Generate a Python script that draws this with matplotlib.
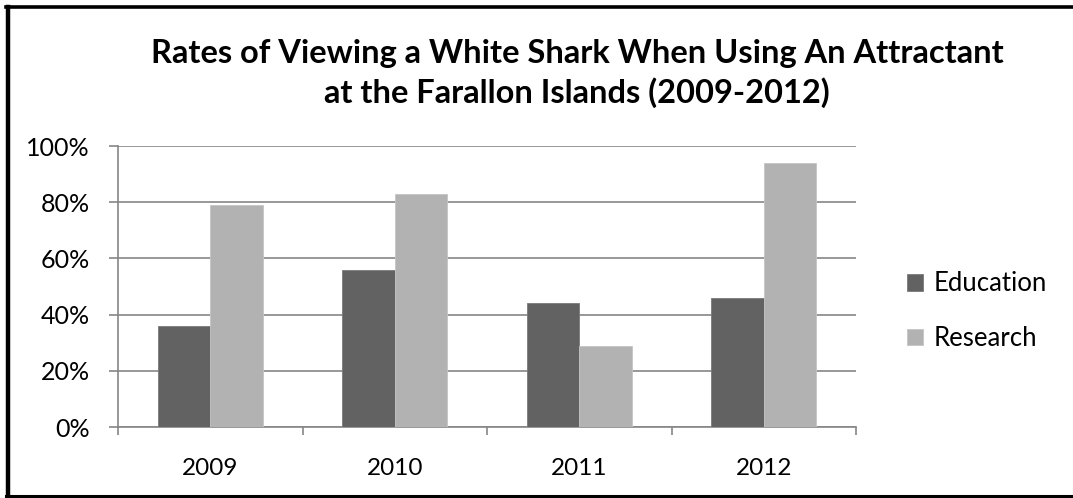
import numpy as np
import matplotlib.pyplot as plt
from matplotlib.lines import Line2D
from matplotlib.ticker import PercentFormatter

# data
years = ['2009', '2010', '2011', '2012']
education = [36, 56, 44, 46]
research = [79, 83, 29, 94]

dark = '#626262'
light = '#b2b2b2'
grid_c = '#868686'

plt.rcParams['font.family'] = ['Lato', 'DejaVu Sans']

fig = plt.figure(figsize=(10.73, 4.98), dpi=100)
ax = fig.add_axes([118/1073, 71/498, 738/1073, 281/498])

x = np.arange(len(years))
w = 0.285
ax.bar(x - w/2, education, w, color=dark, edgecolor='#7a7a7a', linewidth=0.6, label='Education', zorder=3)
ax.bar(x + w/2, research, w, color=light, edgecolor='#c4c4c4', linewidth=0.6, label='Research', zorder=3)

ax.set_xlim(-0.5, len(years) - 0.5)
ax.set_ylim(0, 100)
ax.set_yticks(np.arange(0, 101, 20))
ax.yaxis.set_major_formatter(PercentFormatter(decimals=0))
ax.yaxis.grid(True, color=grid_c, linewidth=1.2, zorder=0)

ax.set_xticks(x)
ax.set_xticklabels(years)
ax.set_xticks(np.arange(-0.5, len(years)), minor=True)
ax.tick_params(axis='x', which='major', length=0, pad=22, labelsize=17.5)
ax.tick_params(axis='x', which='minor', length=6, width=1.2, color=grid_c)
ax.tick_params(axis='y', length=6.5, width=1.2, color=grid_c, pad=14, labelsize=18)

for s in ['top', 'right']:
    ax.spines[s].set_visible(False)
for s in ['left', 'bottom']:
    ax.spines[s].set_color(grid_c)
    ax.spines[s].set_linewidth(1.2)

fig.text(0.538, 0.853, 'Rates of Viewing a White Shark When Using An Attractant\nat the Farallon Islands (2009-2012)',
         ha='center', va='center', fontsize=23.5, fontweight='bold', linespacing=1.35)

fig.legend(loc='center left', bbox_to_anchor=(884/1073, 0.375), frameon=False, fontsize=18.5,
           handlelength=0.6, handleheight=0.6, handletextpad=0.45, labelspacing=1.15)

# outer frame of the chart
fig.add_artist(Line2D([8/1073, 8/1073], [2/498, 491/498], color='black', linewidth=3.2))
fig.add_artist(Line2D([6/1073, 1.0], [491/498, 491/498], color='black', linewidth=2.6))
fig.add_artist(Line2D([6/1073, 1.0], [2/498, 2/498], color='black', linewidth=2.2))

fig.savefig('out.png', dpi=100)
